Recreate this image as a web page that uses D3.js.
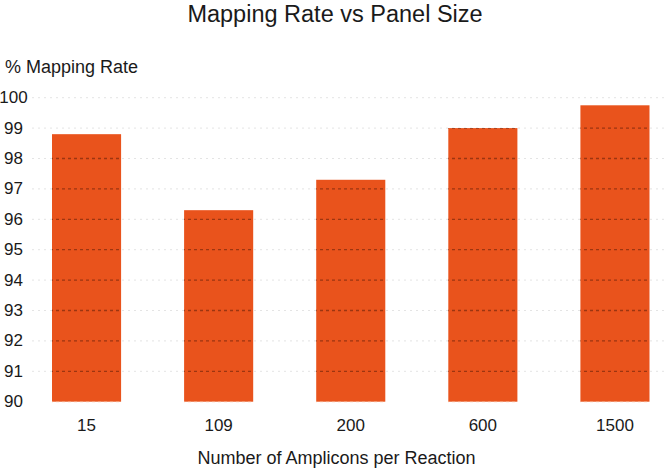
<!DOCTYPE html>
<html>
<head>
<meta charset="utf-8">
<title>Mapping Rate vs Panel Size</title>
<style>
body { margin: 0; background: #fff; }
svg { display: block; font-family: 'Liberation Sans', Arial, sans-serif; }
.ytick { fill: #1a1a1a; font-size: 17px; text-anchor: middle; dominant-baseline: central; }
.xtick { fill: #1a1a1a; font-size: 17px; text-anchor: middle; }
</style>
</head>
<body>
<svg></svg>
<script src="https://d3js.org/d3.v7.min.js"></script>
<script>
const categories = ['15', '109', '200', '600', '1500'];
const mappingRate = [98.8, 96.3, 97.3, 99.0, 99.75];
const yTicks = [90, 91, 92, 93, 94, 95, 96, 97, 98, 99, 100];

const width = 669, height = 469;
const barColor = '#e9531c';

const svg = d3.select('svg').attr('width', width).attr('height', height);

const x = d3.scaleBand(categories, [52, 649.5]).paddingInner(0.477).paddingOuter(0);
const y = d3.scaleLinear([90, 100], [401.7, 97.7]);

const data = categories.map((c, i) => ({ cat: c, val: mappingRate[i] }));

// faint grid behind the bars
const gBack = svg.append('g');
gBack.selectAll('line').data(yTicks.slice(1)).join('line')
  .attr('x1', 32).attr('x2', 668)
  .attr('y1', d => y(d)).attr('y2', d => y(d))
  .attr('stroke', '#e4e4e4')
  .attr('stroke-width', 1)
  .attr('stroke-dasharray', '2,4');

// bars
svg.append('g').selectAll('rect').data(data).join('rect')
  .attr('x', d => x(d.cat))
  .attr('width', x.bandwidth())
  .attr('y', d => y(d.val))
  .attr('height', d => y(90) - y(d.val))
  .attr('fill', barColor);

// darker dashes where the grid crosses the bars
const clip = svg.append('clipPath').attr('id', 'barclip');
clip.selectAll('rect').data(data).join('rect')
  .attr('x', d => x(d.cat))
  .attr('width', x.bandwidth())
  .attr('y', d => y(d.val))
  .attr('height', d => y(90) - y(d.val) + 1);

svg.append('g').attr('clip-path', 'url(#barclip)')
  .selectAll('line').data(yTicks).join('line')
  .attr('x1', 32).attr('x2', 668)
  .attr('y1', d => y(d)).attr('y2', d => y(d))
  .attr('stroke', d => d === 90 ? '#f6a27c' : '#7a2a0c')
  .attr('stroke-opacity', 0.7)
  .attr('stroke-width', 1.3)
  .attr('stroke-dasharray', '3,3');

// y tick labels
svg.append('g').selectAll('text').data(yTicks).join('text')
  .attr('class', 'ytick')
  .attr('x', 13.5)
  .attr('y', d => y(d))
  .text(d => d);

// x tick labels
svg.append('g').selectAll('text').data(categories).join('text')
  .attr('class', 'xtick')
  .attr('x', d => x(d) + x.bandwidth() / 2)
  .attr('y', 430.5)
  .text(d => d);

// titles
svg.append('text')
  .attr('x', 335).attr('y', 22)
  .attr('text-anchor', 'middle')
  .style('font-size', '23.5px')
  .attr('fill', '#1a1a1a')
  .text('Mapping Rate vs Panel Size');

svg.append('text')
  .attr('x', 5).attr('y', 73)
  .style('font-size', '18px')
  .attr('fill', '#1a1a1a')
  .text('% Mapping Rate');

svg.append('text')
  .attr('x', 336.5).attr('y', 464)
  .attr('text-anchor', 'middle')
  .style('font-size', '18px')
  .attr('fill', '#1a1a1a')
  .text('Number of Amplicons per Reaction');
</script>
</body>
</html>
